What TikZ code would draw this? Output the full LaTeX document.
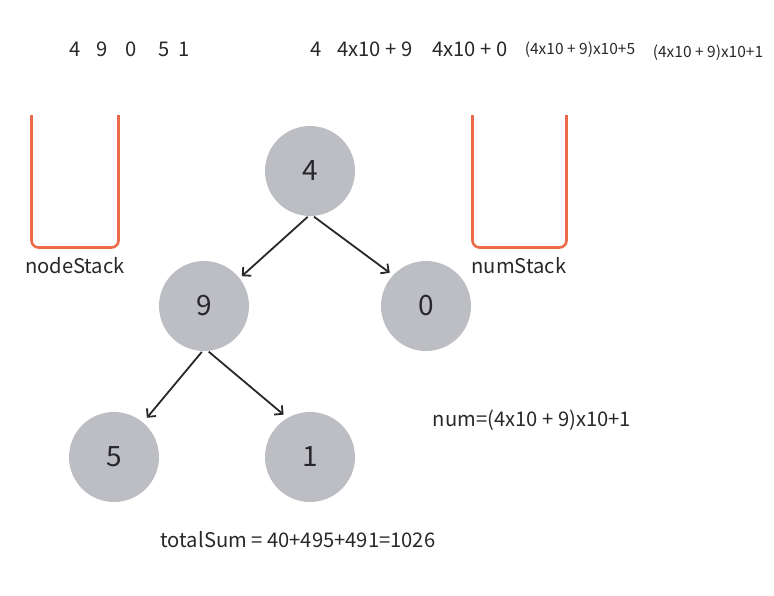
\documentclass[tikz,border=0pt]{standalone}
\usepackage{fontspec}
\setmainfont{Noto Sans CJK SC}
\usepackage{xcolor}
\usetikzlibrary{arrows.meta}
\usetikzlibrary{positioning}

\definecolor{nodegray}{RGB}{188,190,195}
\definecolor{stackred}{RGB}{236,106,72}
\definecolor{inkgray}{RGB}{40,40,44}

\begin{document}
\begin{tikzpicture}[x=1pt, y=-1pt,
    tree node/.style={circle, fill=nodegray, minimum size=90pt, inner sep=0pt,
      text=inkgray, font=\fontsize{28}{30}\selectfont},
    note/.style={inner sep=0pt, anchor=base, text=inkgray, font=\fontsize{20.2}{24}\selectfont},
    small note/.style={note, font=\fontsize{15.5}{18}\selectfont},
    stack/.style={draw=stackred, line width=2.6pt, rounded corners=7pt},
    link/.style={->, draw=inkgray, line width=1.8pt, shorten <=1pt},
  ]
\tikzset{>={Straight Barb[length=6pt, width=12pt]}}

  \useasboundingbox (0,0) rectangle (774,595);

  % the tree
  \node[tree node] (n4) at (310,171) {4};
  \node[tree node] (n9) at (204,306) {9};
  \node[tree node] (n0) at (426,306) {0};
  \node[tree node] (n5) at (114,457) {5};
  \node[tree node] (n1) at (310,457) {1};

  \draw[link, shorten >=3pt] (n4.268) -- (n9.38);
  \draw[link, shorten >=4pt] (n4.274) -- (n0.137);
  \draw[link, shorten >=6pt] (n9.268) -- (n5.50);
  \draw[link, shorten >=5pt] (n9.275) -- (n1.120);

  % the two stacks
  \draw[stack] (31.5,115) -- (31.5,247.5) -- (118.5,247.5) -- (118.5,115);
  \draw[stack] (472.5,115) -- (472.5,247.5) -- (566.5,247.5) -- (566.5,115);
  \node[note] (nodestack) at (75,273) {nodeStack};
  \node[note] (numstack) at (519,273) {numStack};

  % order of visit
  \node[note] (visit) at (130,56.5) {4\hspace{15pt}9\hspace{18pt}0\hspace{22pt}5\hspace{9pt}1};

  % values pushed on numStack
  \node[note] (v1) at (316,56.5) {4};
  \node[note] (v2) at (375,56.5) {4x10 + 9};
  \node[note] (v3) at (470,56.5) {4x10 + 0};
  \node[small note] (v4) at (580,54.3) {(4x10 + 9)x10+5};
  \node[small note] (v5) at (708,57.7) {(4x10 + 9)x10+1};

  \node[note] (num) at (532,426.7) {num=(4x10 + 9)x10+1};
  \node[note] (total) at (298,547) {totalSum = 40+495+491=1026};

\end{tikzpicture}
\end{document}
